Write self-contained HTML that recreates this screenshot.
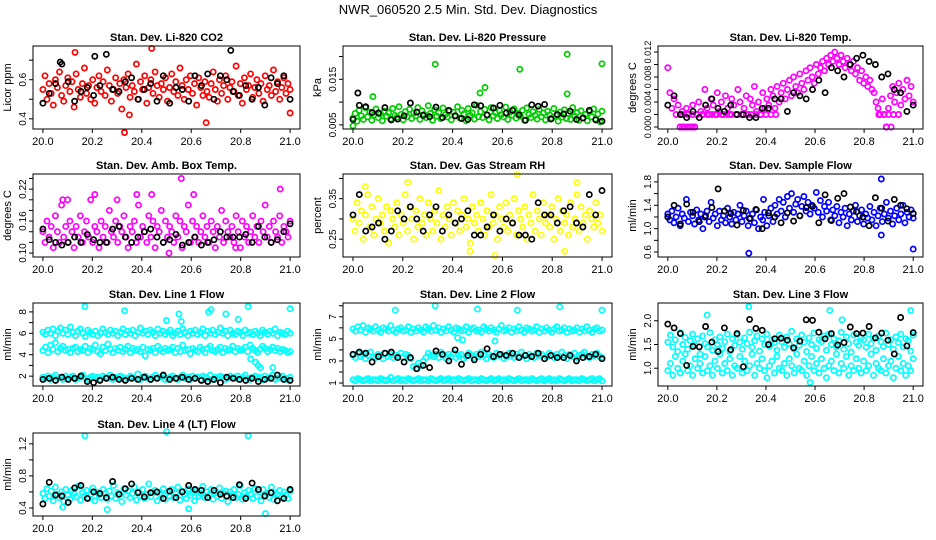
<!DOCTYPE html>
<html><head><meta charset="utf-8">
<style>
html,body{margin:0;padding:0;background:#fff;}
svg{display:block;font-family:"Liberation Sans",sans-serif;}
</style></head>
<body>
<svg id="chart" width="936" height="540" viewBox="0 0 936 540" xmlns="http://www.w3.org/2000/svg">
<rect x="0" y="0" width="936" height="540" fill="#fff"/>
<text x="468" y="14" text-anchor="middle" font-size="13">NWR_060520  2.5 Min. Std. Dev. Diagnostics</text>
</svg>
<script>
const xTicks = [20.0, 20.2, 20.4, 20.6, 20.8, 21.0];
const xTickLabels = ["20.0", "20.2", "20.4", "20.6", "20.8", "21.0"];

const co2Red = [0.55,0.62,0.50,0.58,0.53,0.47,0.60,0.56,0.64,0.52,0.49,0.57,0.61,0.54,0.59,0.46,0.63,0.55,0.51,0.58,
0.66,0.53,0.57,0.50,0.60,0.48,0.56,0.62,0.54,0.59,0.52,0.65,0.57,0.49,0.55,0.61,0.53,0.58,0.45,0.60,
0.56,0.63,0.51,0.57,0.54,0.68,0.50,0.59,0.55,0.62,0.48,0.56,0.60,0.53,0.64,0.57,0.51,0.58,0.55,0.61,
0.49,0.56,0.63,0.54,0.59,0.52,0.66,0.57,0.50,0.60,0.55,0.62,0.53,0.58,0.47,0.61,0.56,0.52,0.59,0.54,
0.51,0.58,0.64,0.55,0.49,0.60,0.53,0.57,0.62,0.50,0.56,0.59,0.54,0.67,0.52,0.58,0.48,0.61,0.55,0.57,
0.63,0.51,0.56,0.60,0.53,0.58,0.49,0.62,0.55,0.57,0.52,0.65,0.54,0.59,0.50,0.56,0.61,0.53,0.58,0.55];
const co2RedOutX = [20.13,20.44,20.33,20.35,20.66,21.0];
const co2RedOutY = [0.74,0.76,0.33,0.42,0.38,0.43];
const co2Black = [0.48,0.53,0.58,0.68,0.59,0.49,0.54,0.56,0.52,0.57,0.73,0.55,0.54,0.59,0.61,0.50,0.55,0.58,0.49,0.62,
0.48,0.56,0.55,0.49,0.62,0.57,0.63,0.50,0.62,0.60,0.54,0.52,0.57,0.50,0.56,0.47,0.61,0.58,0.62,0.50];
const co2BlackOutX = [20.76,20.21,20.07];
const co2BlackOutY = [0.75,0.72,0.69];

const presGreen = [0.0065,0.0075,0.0058,0.0082,0.0070,0.0062,0.0088,0.0068,0.0078,0.0060,0.0072,0.0085,0.0066,0.0074,0.0059,0.0080,0.0069,0.0077,0.0063,0.0086,
0.0071,0.0067,0.0090,0.0073,0.0061,0.0079,0.0068,0.0084,0.0064,0.0076,0.0070,0.0088,0.0062,0.0081,0.0073,0.0066,0.0092,0.0075,0.0060,0.0083,
0.0069,0.0077,0.0064,0.0087,0.0072,0.0067,0.0080,0.0061,0.0078,0.0070,0.0090,0.0065,0.0082,0.0074,0.0059,0.0086,0.0071,0.0076,0.0063,0.0093,
0.0068,0.0079,0.0066,0.0084,0.0072,0.0061,0.0088,0.0070,0.0077,0.0064,0.0081,0.0073,0.0067,0.0089,0.0062,0.0078,0.0071,0.0085,0.0065,0.0075,
0.0069,0.0082,0.0060,0.0087,0.0073,0.0066,0.0079,0.0071,0.0063,0.0084,0.0068,0.0076,0.0061,0.0080,0.0072,0.0065,0.0086,0.0070,0.0058,0.0078,
0.0067,0.0083,0.0064,0.0075,0.0062,0.0088,0.0069,0.0077,0.0060,0.0081,0.0066,0.0073,0.0059,0.0079,0.0068,0.0085,0.0063,0.0074,0.0057,0.0080];
const presGreenOutX = [20.33,20.67,20.86,21.0,20.53,20.51,20.86,20.08,20.0];
const presGreenOutY = [0.0183,0.0172,0.0205,0.0184,0.0132,0.0120,0.0118,0.0112,0.0048];
const presBlack = [0.0062,0.0093,0.0090,0.0077,0.0076,0.0088,0.0061,0.0063,0.0070,0.0098,0.0078,0.0071,0.0068,0.0089,0.0066,0.0082,0.0070,0.0064,0.0062,0.0094,
0.0092,0.0072,0.0087,0.0093,0.0076,0.0082,0.0072,0.0060,0.0094,0.0091,0.0095,0.0063,0.0073,0.0074,0.0080,0.0062,0.0065,0.0082,0.0061,0.0058];
const presBlackOutX = [20.02];
const presBlackOutY = [0.0120];

const tempMag = [0.0095,0.0055,0.0030,0.0045,0.0020,0.0035,0.0000,0.0025,0.0000,0.0030,0.0020,0.0000,0.0035,0.0000,0.0020,0.0040,0.0025,0.0020,0.0060,0.0030,
0.0020,0.0045,0.0035,0.0020,0.0055,0.0025,0.0040,0.0020,0.0050,0.0030,0.0020,0.0045,0.0035,0.0020,0.0060,0.0040,0.0020,0.0030,0.0050,0.0020,
0.0045,0.0035,0.0065,0.0025,0.0040,0.0020,0.0055,0.0030,0.0045,0.0035,0.0060,0.0050,0.0030,0.0065,0.0040,0.0055,0.0070,0.0045,0.0060,0.0075,
0.0050,0.0080,0.0065,0.0055,0.0085,0.0070,0.0060,0.0090,0.0075,0.0095,0.0080,0.0070,0.0100,0.0085,0.0095,0.0105,0.0090,0.0110,0.0100,0.0115,
0.0105,0.0120,0.0110,0.0100,0.0115,0.0105,0.0095,0.0110,0.0100,0.0090,0.0105,0.0085,0.0095,0.0075,0.0090,0.0070,0.0080,0.0065,0.0075,0.0060,
0.0055,0.0040,0.0030,0.0020,0.0045,0.0020,0.0000,0.0030,0.0050,0.0065,0.0040,0.0055,0.0070,0.0035,0.0060,0.0045,0.0075,0.0050,0.0065,0.0040];
const tempLowX = [20.05,20.06,20.07,20.08,20.09,20.10,20.11,20.06,20.08,20.10,20.12,20.14,20.16,20.18,20.20,20.22,20.24,20.26,20.28,20.30,20.32,20.34,20.36,20.38,20.40,20.42,20.44,20.86,20.88,20.90,20.92,20.94,20.89,20.91];
const tempLowY = [0,0,0,0,0,0,0,0.002,0.002,0.002,0.002,0.002,0.002,0.002,0.002,0.002,0.002,0.002,0.002,0.002,0.002,0.002,0.002,0.002,0.002,0.002,0.002,0.002,0.002,0.002,0.002,0.002,0,0];
const tempBlack = [0.0035,0.0050,0.0020,0.0015,0.0025,0.0015,0.0035,0.0045,0.0030,0.0025,0.0035,0.0020,0.0020,0.0015,0.0015,0.0030,0.0030,0.0045,0.0045,0.0025,
0.0055,0.0050,0.0045,0.0060,0.0075,0.0055,0.0095,0.0090,0.0080,0.0100,0.0110,0.0115,0.0105,0.0100,0.0080,0.0085,0.0060,0.0055,0.0025,0.0035];

const ambMag = [0.14,0.12,0.16,0.13,0.15,0.11,0.17,0.14,0.12,0.19,0.13,0.15,0.12,0.16,0.14,0.11,0.15,0.13,0.17,0.12,
0.14,0.16,0.13,0.20,0.12,0.15,0.14,0.11,0.16,0.13,0.15,0.12,0.18,0.14,0.13,0.16,0.12,0.15,0.14,0.17,
0.13,0.11,0.15,0.14,0.16,0.12,0.19,0.13,0.15,0.14,0.12,0.17,0.13,0.16,0.11,0.15,0.14,0.18,0.12,0.16,
0.13,0.15,0.14,0.12,0.17,0.13,0.16,0.11,0.15,0.14,0.19,0.12,0.16,0.13,0.15,0.12,0.14,0.17,0.13,0.15,
0.12,0.16,0.14,0.11,0.15,0.13,0.18,0.12,0.16,0.14,0.13,0.15,0.12,0.17,0.14,0.11,0.16,0.13,0.15,0.12,
0.14,0.17,0.13,0.15,0.12,0.16,0.14,0.19,0.13,0.15,0.12,0.16,0.14,0.13,0.17,0.12,0.15,0.14,0.13,0.16];
const ambMagOutX = [20.56,20.96,20.44,20.21,20.08,20.10,20.30,20.38,20.61,20.51,20.78];
const ambMagOutY = [0.24,0.22,0.21,0.21,0.20,0.20,0.20,0.21,0.21,0.10,0.11];
const ambBlack = [0.145,0.125,0.12,0.115,0.12,0.13,0.12,0.135,0.125,0.12,0.12,0.145,0.15,0.13,0.12,0.13,0.14,0.145,0.13,0.12,
0.125,0.135,0.115,0.12,0.13,0.115,0.12,0.125,0.14,0.13,0.13,0.13,0.135,0.12,0.15,0.13,0.12,0.125,0.14,0.155];

const rhYellow = [0.30,0.27,0.34,0.29,0.32,0.25,0.31,0.36,0.28,0.33,0.26,0.30,0.35,0.29,0.31,0.27,0.33,0.24,0.32,0.30,
0.28,0.34,0.26,0.31,0.29,0.36,0.27,0.33,0.30,0.25,0.32,0.28,0.35,0.29,0.31,0.26,0.34,0.30,0.27,0.32,
0.29,0.37,0.25,0.31,0.28,0.33,0.30,0.26,0.34,0.29,0.32,0.27,0.31,0.35,0.28,0.30,0.24,0.33,0.29,0.31,
0.27,0.34,0.30,0.26,0.32,0.28,0.36,0.29,0.31,0.25,0.33,0.30,0.28,0.34,0.27,0.31,0.29,0.35,0.26,0.32,
0.30,0.28,0.33,0.25,0.31,0.29,0.36,0.27,0.32,0.30,0.26,0.34,0.29,0.31,0.28,0.33,0.25,0.30,0.35,0.27,
0.32,0.29,0.31,0.26,0.34,0.28,0.30,0.36,0.27,0.33,0.29,0.31,0.25,0.32,0.30,0.28,0.34,0.29,0.31,0.27];
const rhYellowOutX = [20.22,20.66,20.90,20.05,20.57,20.47,20.85];
const rhYellowOutY = [0.39,0.41,0.39,0.38,0.21,0.22,0.22];
const rhBlack = [0.31,0.36,0.27,0.28,0.29,0.25,0.27,0.32,0.30,0.33,0.30,0.27,0.31,0.33,0.27,0.31,0.29,0.30,0.32,0.26,
0.26,0.28,0.31,0.27,0.30,0.29,0.26,0.26,0.25,0.34,0.31,0.31,0.29,0.32,0.33,0.29,0.28,0.36,0.31,0.37];

const flowBlue = [1.25,1.15,1.30,1.10,1.20,1.35,1.05,1.25,1.18,1.50,1.12,1.28,1.22,1.08,1.32,1.15,1.25,1.00,1.20,1.30,
1.12,1.45,1.18,1.25,1.05,1.30,1.15,1.22,1.10,1.35,1.20,1.08,1.28,1.15,1.25,1.40,1.12,1.22,1.30,1.05,
1.18,1.25,1.10,1.32,1.00,1.20,1.15,1.28,1.05,1.22,1.35,1.12,1.40,1.25,1.50,1.30,1.45,1.20,1.55,1.35,
1.60,1.28,1.42,1.50,1.22,1.38,1.55,1.30,1.45,1.25,1.40,1.35,1.62,1.28,1.48,1.20,1.38,1.30,1.45,1.15,
1.32,1.22,1.38,1.10,1.28,1.20,1.35,1.05,1.25,1.15,1.30,1.40,1.12,1.22,1.32,1.08,1.25,1.18,1.38,1.15,
1.28,1.05,1.22,1.35,1.12,1.25,1.45,1.18,1.30,1.08,1.22,1.35,1.15,1.25,1.40,1.10,1.28,1.20,1.32,1.18];
const flowBlueOutX = [20.33,20.87,21.0,20.87,20.39];
const flowBlueOutY = [0.58,1.85,0.65,0.89,1.50];
const flowBlack = [1.20,1.40,1.08,1.42,1.28,1.12,1.22,1.36,1.68,1.30,1.26,1.06,1.31,1.17,1.33,1.00,1.27,1.20,1.10,1.27,
1.13,1.22,1.36,1.38,1.10,1.58,1.14,1.52,1.60,1.37,1.29,1.20,1.05,1.53,1.35,1.13,1.50,1.40,1.34,1.26];

const line1High = [6.1,5.9,6.3,6.0,6.4,5.8,6.2,6.5,6.0,6.3,5.9,6.6,6.1,5.8,6.2,6.4,6.0,5.7,6.3,6.1,
5.9,6.2,5.8,6.0,6.4,6.1,5.9,6.3,6.0,6.2,5.8,6.1,6.4,5.9,6.2,6.0,6.3,5.8,6.1,6.5,
6.0,6.2,5.9,6.3,6.1,5.8,6.4,6.0,6.2,5.9,6.1,6.3,5.8,6.0,6.2,5.9,6.4,6.1,5.8,6.2,
6.0,6.3,5.9,6.1,6.4,5.8,6.2,6.0,6.3,5.9,6.1,6.5,6.0,6.2,5.8,6.3,6.0,5.9,6.2,6.1,
5.8,6.3,6.0,6.1,5.9,6.2,6.0,5.8,6.3,6.1,5.9,6.2,6.0,6.4,5.8,6.1,6.0,5.9,6.2,6.0];
const line1Mid = [4.4,4.7,4.2,4.9,4.5,5.1,4.3,4.6,4.8,4.4,4.5,4.2,4.6,4.7,4.3,4.5,4.4,4.8,4.2,4.6,
4.5,4.9,4.3,4.1,4.7,4.4,5.0,4.5,4.2,4.6,4.4,4.7,4.3,4.5,4.8,4.2,4.6,4.4,4.5,4.3,
4.7,3.9,4.5,4.4,4.6,4.2,4.8,4.5,4.3,4.6,4.4,4.5,4.7,4.2,4.6,4.3,4.9,4.4,4.5,4.1,
4.6,4.4,4.3,4.7,4.5,4.2,4.6,4.8,4.4,4.3,4.5,4.7,4.2,4.6,4.4,4.5,4.8,4.3,4.6,4.4,
4.5,4.7,4.3,4.9,4.6,4.4,4.2,4.5,4.8,4.6,4.3,4.5,4.7,4.4,4.6,4.3,4.5,4.4,4.2,4.3];
const line1Low = [1.9,1.8,2.0,1.7,1.9,2.1,1.8,1.9,1.7,2.0,1.8,1.9,2.0,1.7,1.8,1.9,2.1,1.8,1.7,1.9,
2.0,1.8,1.9,1.7,2.0,1.9,1.8,2.1,1.7,1.9,1.8,2.0,1.9,1.7,1.8,2.0,1.9,1.8,2.2,1.7,
1.9,2.0,1.8,1.7,1.9,2.1,1.8,1.9,2.0,1.7,1.8,1.9,2.0,1.8,1.7,1.9,2.1,1.8,1.9,1.7,
2.0,1.8,1.9,1.7,2.0,1.9,1.8,2.1,1.7,1.9,1.8,2.0,1.9,1.7,1.8,2.0,1.9,1.8,2.0,1.7,
1.9,2.1,1.8,1.7,1.9,2.0,1.8,1.9,1.7,2.0,1.8,1.9,2.1,1.7,1.8,1.9,2.0,1.8,1.7,1.9];
const line1OutX = [20.17,20.33,20.83,21.0,20.55,20.56,20.67,20.68,20.74,20.79,20.50,20.86,20.88,20.93,20.84,20.87];
const line1OutY = [8.5,8.1,8.5,8.3,7.8,7.1,8.0,8.2,7.8,7.3,7.2,3.3,2.8,2.8,3.6,3.0];
const line1Black = [1.7,1.8,1.6,1.9,1.7,1.8,2.0,1.5,1.4,1.6,1.8,1.9,1.7,1.6,1.8,1.7,1.9,1.7,1.8,2.1,
1.7,1.8,1.9,1.7,1.8,1.6,1.5,1.7,1.4,1.9,1.8,1.7,1.6,1.8,1.5,1.7,1.8,2.1,1.7,1.6];

const line2High = [5.9,5.7,6.1,5.8,6.2,5.6,6.0,5.9,5.7,6.1,5.8,5.6,6.0,5.9,5.7,6.2,5.8,5.6,5.9,6.0,
5.7,5.8,6.1,5.6,5.9,5.7,6.0,5.8,5.6,6.1,5.9,5.7,6.2,5.8,6.0,5.6,5.9,5.7,6.1,5.8,
5.6,6.0,5.9,5.7,5.8,6.1,5.6,5.9,6.0,5.7,5.8,5.6,6.1,5.9,5.7,6.0,5.8,5.6,5.9,6.2,
5.7,5.8,6.0,5.6,5.9,5.7,6.1,5.8,5.6,6.0,5.9,5.7,5.8,6.1,5.6,5.9,5.7,6.0,5.8,5.6,
5.9,6.1,5.7,5.8,6.0,5.6,5.9,5.7,5.8,6.0,5.6,5.9,5.7,6.1,5.8,5.6,5.9,6.0,5.7,5.8];
const line2Mid = [3.5,3.3,3.7,3.4,3.6,3.2,3.5,3.8,3.4,3.3,3.6,3.5,3.2,3.7,3.4,3.6,3.3,3.5,3.4,3.7,
3.3,3.6,3.5,3.2,2.5,2.3,2.8,2.6,3.0,3.3,3.7,3.5,3.4,3.6,3.3,3.8,3.5,3.2,3.6,3.4,
3.7,3.3,3.5,3.6,3.2,3.4,3.7,3.5,3.3,3.6,3.4,3.8,3.5,3.2,3.6,3.4,3.3,3.7,3.5,3.6,
3.2,3.4,3.7,3.5,3.3,3.6,3.4,3.8,3.5,3.2,3.6,3.4,3.3,3.7,3.5,3.6,3.2,3.4,3.7,3.5,
3.3,3.6,3.4,3.8,3.5,3.2,3.6,3.4,3.7,3.3,3.5,3.6,3.8,3.4,3.3,3.6,3.5,3.7,3.4,3.3];
const line2Low = [1.3,1.2,1.4,1.3,1.2,1.3,1.4,1.2,1.3,1.3,1.2,1.4,1.3,1.2,1.3,1.5,1.2,1.3,1.4,1.2,
1.3,1.2,1.4,1.3,1.2,1.3,1.4,1.2,1.3,1.3,1.2,1.4,1.3,1.2,1.3,1.4,1.2,1.3,1.4,1.2,
1.3,1.2,1.4,1.3,1.2,1.3,1.4,1.2,1.3,1.3,1.2,1.4,1.3,1.2,1.3,1.4,1.2,1.3,1.4,1.2,
1.3,1.2,1.4,1.3,1.2,1.3,1.4,1.2,1.3,1.3,1.2,1.4,1.3,1.2,1.3,1.4,1.2,1.3,1.4,1.2,
1.3,1.2,1.4,1.3,1.2,1.3,1.4,1.2,1.3,1.3,1.2,1.4,1.3,1.2,1.3,1.4,1.2,1.3,1.4,1.2];
const line2OutX = [20.17,20.33,20.50,20.66,20.83,21.0,20.57,20.42,20.44];
const line2OutY = [7.6,8.0,7.7,7.6,7.9,7.6,4.8,5.1,4.9];
const line2Black = [3.6,3.8,3.7,2.9,3.4,3.7,3.8,3.3,2.9,3.3,2.3,2.6,2.4,3.9,3.6,3.0,4.0,2.7,3.5,3.1,
3.6,4.1,3.4,3.6,3.5,3.7,3.3,3.5,3.4,3.7,3.2,3.5,3.3,3.3,3.5,3.0,3.3,3.4,3.6,3.2];

const line3High = [1.55,1.70,1.45,1.60,1.35,1.75,1.50,1.65,1.40,1.58,1.72,1.48,1.62,1.30,1.68,1.52,1.45,1.75,1.38,1.60,
1.50,1.66,1.42,1.56,1.72,1.35,1.62,1.48,1.70,1.55,1.40,1.64,1.52,1.76,1.44,1.58,1.68,1.36,1.62,1.50,
1.72,1.46,1.60,1.54,1.38,1.70,1.56,1.44,1.66,1.52,1.78,1.40,1.62,1.48,1.70,1.55,1.35,1.64,1.50,1.74,
1.42,1.60,1.56,1.68,1.38,1.72,1.50,1.62,1.45,1.58,1.76,1.40,1.66,1.52,1.34,1.70,1.55,1.48,1.64,1.60,
1.44,1.72,1.52,1.62,1.38,1.68,1.56,1.46,1.74,1.50,1.60,1.40,1.66,1.54,1.72,1.45,1.62,1.58,1.36,1.70];
const line3Low = [0.95,1.10,0.85,1.25,1.00,0.90,1.15,1.30,0.95,1.05,0.85,1.20,1.00,1.10,0.90,1.25,0.95,1.05,0.85,1.15,
1.00,1.30,0.90,1.10,0.95,1.20,0.85,1.05,1.00,1.25,0.90,1.15,0.95,1.05,1.30,0.85,1.10,1.00,1.20,0.95,
0.80,1.05,1.15,0.90,1.25,1.00,0.95,1.10,0.85,1.20,1.05,0.90,1.30,1.00,0.95,1.15,0.85,1.05,1.25,0.95,
1.10,0.90,1.20,1.00,0.80,1.05,1.15,0.95,1.30,0.90,1.10,1.00,1.25,0.85,1.05,0.95,1.20,1.00,0.90,1.15,
0.95,1.05,1.30,0.85,1.10,1.00,0.95,1.20,0.90,1.05,1.15,0.80,1.00,1.25,0.95,1.10,0.85,1.05,0.95,1.20];
const line3OutX = [20.16,20.33,20.66,20.99,20.58,20.71];
const line3OutY = [2.12,2.30,2.22,2.22,0.70,2.02];
const line3Black = [1.93,1.85,1.73,1.06,1.46,1.45,1.88,1.55,1.35,1.85,1.39,1.73,1.03,2.03,1.84,1.80,1.50,1.62,1.63,1.59,
1.43,1.57,2.02,2.01,1.76,1.62,1.73,1.49,1.54,1.87,1.73,1.74,1.88,1.64,1.74,1.59,1.30,2.07,1.47,1.75];

const line4Cyan = [0.58,0.52,0.64,0.55,0.61,0.49,0.66,0.57,0.53,0.60,0.48,0.63,0.56,0.51,0.62,0.58,0.54,0.67,0.50,0.59,
0.55,0.62,0.52,0.57,0.65,0.49,0.60,0.56,0.53,0.63,0.58,0.51,0.61,0.55,0.68,0.52,0.59,0.57,0.48,0.64,
0.56,0.61,0.53,0.58,0.66,0.50,0.60,0.55,0.63,0.52,0.57,0.70,0.54,0.59,0.62,0.49,0.58,0.56,0.64,0.51,
0.60,0.55,0.63,0.53,0.58,0.66,0.50,0.61,0.57,0.52,0.64,0.56,0.59,0.49,0.62,0.55,0.58,0.67,0.53,0.60,
0.56,0.63,0.51,0.59,0.55,0.65,0.52,0.58,0.61,0.48,0.60,0.56,0.63,0.53,0.57,0.68,0.51,0.59,0.55,0.62,
0.57,0.52,0.64,0.55,0.60,0.49,0.63,0.56,0.58,0.53,0.66,0.51,0.59,0.57,0.62,0.54,0.60,0.56,0.52,0.61];
const line4OutX = [20.17,20.50,20.83,20.26,20.90,20.59,20.08];
const line4OutY = [1.30,1.35,1.30,0.38,0.33,0.39,0.41];
const line4Black = [0.45,0.72,0.56,0.55,0.47,0.65,0.68,0.52,0.60,0.58,0.53,0.73,0.57,0.64,0.70,0.59,0.54,0.59,0.60,0.52,
0.61,0.53,0.60,0.68,0.63,0.62,0.53,0.62,0.57,0.55,0.53,0.69,0.52,0.71,0.63,0.55,0.59,0.49,0.52,0.63];

const NS = "http://www.w3.org/2000/svg";
const svg = document.getElementById('chart');
const colLeft = [33, 343, 658], colRight = [300, 612, 923];
const rowTop = [46, 174, 303, 433], boxH = 83;

function mk(tag, attrs, parent) {
  const e = document.createElementNS(NS, tag);
  for (const k in attrs) e.setAttribute(k, attrs[k]);
  (parent || svg).appendChild(e);
  return e;
}
function seq(vals) { const n = vals.length; return vals.map((v, i) => 20 + i / (n - 1)); }

const panels = [
 {c:0,r:0,title:"Stan. Dev. Li-820 CO2",ylab:"Licor ppm",yr:[0.348,0.7725],ticks:[0.4,0.5,0.6,0.7],labels:[[0.4,"0.4"],[0.6,"0.6"]],
  series:[[null,co2Red,"#ff0000"],[co2RedOutX,co2RedOutY,"#ff0000"],[null,co2Black,"#000"],[co2BlackOutX,co2BlackOutY,"#000"]]},
 {c:1,r:0,title:"Stan. Dev. Li-820 Pressure",ylab:"kPa",yr:[0.0041,0.0223],ticks:[0.005,0.010,0.015,0.020],labels:[[0.005,"0.005"],[0.015,"0.015"]],
  series:[[null,presGreen,"#00cc00"],[presGreenOutX,presGreenOutY,"#00cc00"],[null,presBlack,"#000"],[presBlackOutX,presBlackOutY,"#000"]]},
 {c:2,r:0,title:"Stan. Dev. Li-820 Temp.",ylab:"degrees C",yr:[-0.00032,0.01297],ticks:[0,0.002,0.004,0.006,0.008,0.010,0.012],labels:[[0,"0.000"],[0.004,"0.004"],[0.008,"0.008"],[0.012,"0.012"]],lfs:9,
  series:[[null,tempMag,"#ff00ff"],[tempLowX,tempLowY,"#ff00ff"],[null,tempBlack,"#000"]]},
 {c:0,r:1,title:"Stan. Dev. Amb. Box Temp.",ylab:"degrees C",yr:[0.0926,0.2484],ticks:[0.10,0.12,0.14,0.16,0.18,0.20,0.22,0.24],labels:[[0.10,"0.10"],[0.16,"0.16"],[0.22,"0.22"]],
  series:[[null,ambMag,"#ff00ff"],[ambMagOutX,ambMagOutY,"#ff00ff"],[null,ambBlack,"#000"]]},
 {c:1,r:1,title:"Stan. Dev. Gas Stream RH",ylab:"percent",yr:[0.206,0.411],ticks:[0.20,0.25,0.30,0.35,0.40],labels:[[0.25,"0.25"],[0.35,"0.35"]],
  series:[[null,rhYellow,"#ffff00"],[rhYellowOutX,rhYellowOutY,"#ffff00"],[null,rhBlack,"#000"]]},
 {c:2,r:1,title:"Stan. Dev. Sample Flow",ylab:"ml/min",yr:[0.515,1.935],ticks:[0.6,0.8,1.0,1.2,1.4,1.6,1.8],labels:[[0.6,"0.6"],[1.0,"1.0"],[1.4,"1.4"],[1.8,"1.8"]],
  series:[[null,flowBlue,"#0000ff"],[flowBlueOutX,flowBlueOutY,"#0000ff"],[null,flowBlack,"#000"]]},
 {c:0,r:2,title:"Stan. Dev. Line 1 Flow",ylab:"ml/min",yr:[1.08,8.83],ticks:[2,3,4,5,6,7,8],labels:[[2,"2"],[4,"4"],[6,"6"],[8,"8"]],
  series:[[null,line1High,"#00ffff"],[null,line1Mid,"#00ffff"],[null,line1Low,"#00ffff"],[line1OutX,line1OutY,"#00ffff"],[null,line1Black,"#000"]]},
 {c:1,r:2,title:"Stan. Dev. Line 2 Flow",ylab:"ml/min",yr:[0.73,8.25],ticks:[1,2,3,4,5,6,7,8],labels:[[1,"1"],[3,"3"],[5,"5"],[7,"7"]],
  series:[[null,line2High,"#00ffff"],[null,line2Mid,"#00ffff"],[null,line2Low,"#00ffff"],[line2OutX,line2OutY,"#00ffff"],[null,line2Black,"#000"]]},
 {c:2,r:2,title:"Stan. Dev. Line 3 Flow",ylab:"ml/min",yr:[0.625,2.375],ticks:[1.0,1.5,2.0],labels:[[1.0,"1.0"],[1.5,"1.5"],[2.0,"2.0"]],
  series:[[null,line3High,"#00ffff"],[null,line3Low,"#00ffff"],[line3OutX,line3OutY,"#00ffff"],[null,line3Black,"#000"]]},
 {c:0,r:3,title:"Stan. Dev. Line 4 (LT) Flow",ylab:"ml/min",yr:[0.30,1.335],ticks:[0.4,0.6,0.8,1.0,1.2],labels:[[0.4,"0.4"],[0.8,"0.8"],[1.2,"1.2"]],
  series:[[null,line4Cyan,"#00ffff"],[line4OutX,line4OutY,"#00ffff"],[null,line4Black,"#000"]]}
];

panels.forEach((p, pi) => {
  const L = colLeft[p.c], R = colRight[p.c], T = rowTop[p.r], B = T + boxH;
  const pad = (R - L) / 1.08 * 0.04;
  const xs = v => L + pad + (v - 20) * (R - L - 2 * pad);
  const ys = v => B - (v - p.yr[0]) / (p.yr[1] - p.yr[0]) * boxH;
  const g = mk('g', {});
  
  
  const t = mk('text', {x: (L + R) / 2, y: T - 5, 'text-anchor': 'middle', 'font-size': 11, 'font-weight': 'bold'}, g);
  t.textContent = p.title;
  
  
  const pts = mk('g', {fill: 'none', 'stroke-width': 1.7}, g);
  
  
  p.series.forEach(s => {
    const yv = s[1], xv = s[0] || seq(yv);
    yv.forEach((v, i) => {
      const c = mk('circle', {cx: xs(xv[i]).toFixed(1), cy: ys(v).toFixed(1), r: 2.6, stroke: s[2]}, pts);
      
      
    });
  });
  const box = mk('rect', {x: L, y: T, width: R - L, height: boxH, fill: 'none', stroke: '#000', 'stroke-width': 1}, g);
  
  
  const xa = mk('g', {}, g);
  
  
  xTicks.forEach((v, i) => {
    mk('line', {x1: xs(v), x2: xs(v), y1: B, y2: B + 4, stroke: '#000'}, xa);
    const tl = mk('text', {x: xs(v), y: B + 16, 'text-anchor': 'middle', 'font-size': 11}, xa);
    tl.textContent = xTickLabels[i];
    
    
  });
  const ya = mk('g', {}, g);
  
  
  p.ticks.forEach(v => {
    const yy = ys(v);
    if (yy < T - 0.5 || yy > B + 0.5) return;
    mk('line', {x1: L - 4, x2: L, y1: yy, y2: yy, stroke: '#000'}, ya);
  });
  const fs = p.lfs || 10;
  p.labels.forEach(lb => {
    const yy = ys(lb[0]);
    const tl = mk('text', {x: 0, y: 0, 'text-anchor': 'middle', 'font-size': fs, transform: `translate(${L - 7},${yy}) rotate(-90)`}, ya);
    tl.textContent = lb[1];
    
    
  });
  const yt = mk('text', {x: 0, y: 0, 'text-anchor': 'middle', 'font-size': 11, transform: `translate(${L - 22},${(T + B) / 2}) rotate(-90)`}, g);
  yt.textContent = p.ylab;
  
  
});
</script>
</body></html>
